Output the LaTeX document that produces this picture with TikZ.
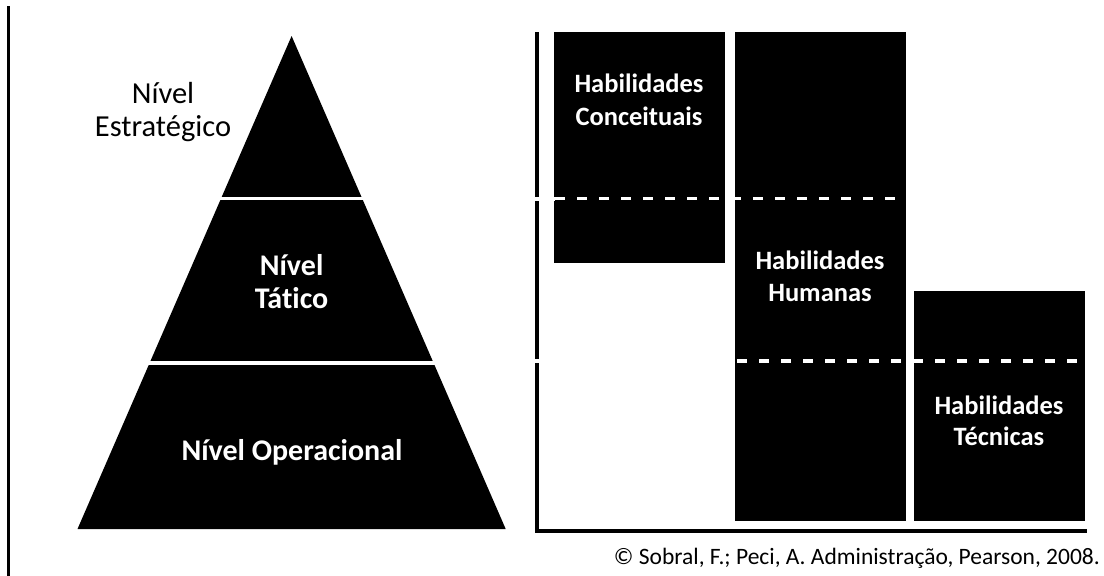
\documentclass[tikz,border=0pt]{standalone}
\usepackage{fontspec}
\setmainfont[Ligatures=CommonOff]{Carlito}
\begin{document}
\begin{tikzpicture}[x=1pt,y=-1pt,
  gapline/.style={white,line width=3.6pt},
  dashw/.style={white,line width=3.2pt,dash pattern=on 10pt off 12pt},
  axisline/.style={black,line width=4pt,line join=miter},
  lbl/.style={font=\fontsize{30.5}{36}\selectfont,inner sep=0pt,anchor=base},
  wlbl/.style={font=\fontsize{30}{36}\selectfont\bfseries,text=white,inner sep=0pt,anchor=base},
  blbl/.style={font=\fontsize{26.5}{32}\selectfont\bfseries,text=white,inner sep=0pt,anchor=base},
  srctext/.style={font=\fontsize{23.5}{28}\selectfont,inner sep=0pt,anchor=base east},
]
\useasboundingbox (0,0) rectangle (1104,576);
\fill[white] (0,0) rectangle (1104,576);
% left rule
\draw[line width=2.5pt] (8.6,6) -- (8.6,576);
% pyramid
\fill[black] (291.6,36) -- (505.7,529) -- (77.5,529) -- cycle;
\draw[gapline] (200,198.5) -- (385,198.5);
\draw[gapline] (130,363) -- (455,363);
% pyramid labels
\node[lbl] (e1) at (163,103.3) {Nível};
\node[lbl] (e2) at (163,136.7) {Estratégico};
\node[wlbl] (t1) at (291.6,275) {Nível};
\node[wlbl] (t2) at (291.6,308) {Tático};
\node[wlbl] (o1) at (292,460) {Nível Operacional};
% bar boxes
\fill[black] (553.5,32) rectangle (725,263);
\fill[black] (735,32) rectangle (905.5,521);
\fill[black] (913.7,291) rectangle (1085,521);
% axes
\draw[axisline] (536.7,32) -- (536.7,531.2) -- (1087,531.2);
% dashed separators
\draw[gapline] (530,198.7) -- (555,198.7);
\draw[dashw] (555,198.7) -- (903,198.7);
\draw[gapline] (530,361) -- (545,361);
\draw[dashw] (737,361) -- (1085,361);
% bar labels
\node[blbl] (c1) at (639,92.7) {Habilidades};
\node[blbl] (c2) at (639,125) {Conceituais};
\node[blbl] (h1) at (820,269.5) {Habilidades};
\node[blbl] (h2) at (820,301) {Humanas};
\node[blbl] (k1) at (999,414.3) {Habilidades};
\node[blbl] (k2) at (999,445.7) {Técnicas};
% caption
\node[srctext] (src) at (1100,564) {© Sobral, F.; Peci, A. Administração, Pearson, 2008.};
\end{tikzpicture}
\end{document}
